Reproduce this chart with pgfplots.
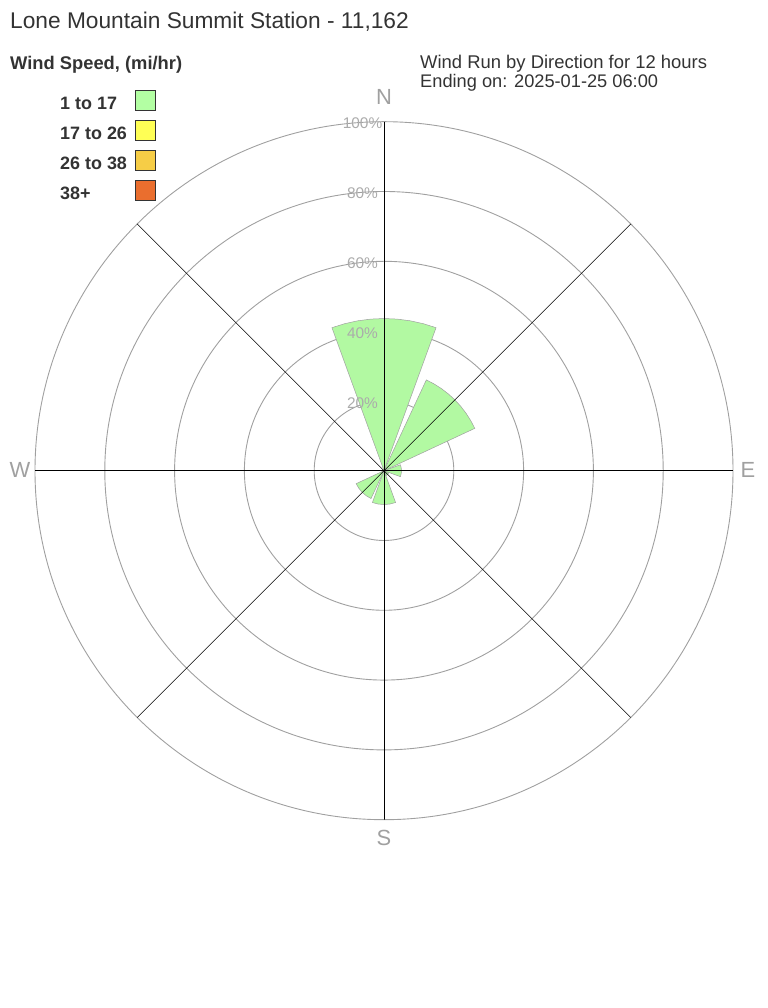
\documentclass[border=0pt]{standalone}
\usepackage{pgfplots}
\pgfplotsset{compat=1.18}
\usepgfplotslibrary{polar}
\usepackage{fontspec}
\setmainfont{Liberation Sans}

\definecolor{txt}{HTML}{333333}
\definecolor{ring}{HTML}{A0A0A0}
\definecolor{lbl}{HTML}{ABABAB}
\definecolor{wedge}{HTML}{B2F9A2}
\definecolor{spd1}{HTML}{B3FFA3}
\definecolor{spd2}{HTML}{FFFF55}
\definecolor{spd3}{HTML}{F6CD46}
\definecolor{spd4}{HTML}{EA6E2E}

\begin{document}
\begin{tikzpicture}[x=1bp,y=1bp]
  % page frame, same size as the reference
  \path (0,0) rectangle (768,1008);

  \begin{polaraxis}[
      at={(384bp,537.3bp)}, anchor=center,
      width=698bp, height=698bp, scale only axis,
      ymin=0, ymax=100,
      xtick=\empty,
      ytick={20,40,60,80},
      yticklabels={},
      major tick length=0,
      ymajorgrids=true,
      y grid style={ring, line width=0.9bp},
      axis line style={ring, line width=0.9bp},
    ]
    % wind run by direction, % (angle = math angle, 90 = N)
    % N
    \addplot[fill=wedge, draw=ring, line width=0.5bp] coordinates {
      (0,0) (70,43.6) (75,43.6) (80,43.6) (85,43.6) (90,43.6)
      (95,43.6) (100,43.6) (105,43.6) (110,43.6) (0,0)};
    % NE
    \addplot[fill=wedge, draw=ring, line width=0.5bp] coordinates {
      (0,0) (25,28.7) (30,28.7) (35,28.7) (40,28.7) (45,28.7)
      (50,28.7) (55,28.7) (60,28.7) (65,28.7) (0,0)};
    % E
    \addplot[fill=wedge, draw=ring, line width=0.5bp] coordinates {
      (0,0) (-20,5.0) (-10,5.0) (0,5.0) (10,5.0) (20,5.0) (0,0)};
    % SE
    \addplot[fill=wedge, draw=ring, line width=0.5bp] coordinates {
      (0,0) (-65,1.5) (-45,1.5) (-25,1.5) (0,0)};
    % S
    \addplot[fill=wedge, draw=ring, line width=0.5bp] coordinates {
      (0,0) (250,9.7) (260,9.7) (270,9.7) (280,9.7) (290,9.7) (0,0)};
    % SW
    \addplot[fill=wedge, draw=ring, line width=0.5bp] coordinates {
      (0,0) (205,8.8) (215,8.8) (225,8.8) (235,8.8) (245,8.8) (0,0)};

    % spokes
    \addplot[black, line width=1bp] coordinates {(90,100) (270,100)};
    \addplot[black, line width=1bp] coordinates {(0,100) (180,100)};
    \addplot[black, line width=0.6bp] coordinates {(45,100) (225,100)};
    \addplot[black, line width=0.6bp] coordinates {(135,100) (315,100)};
  \end{polaraxis}

  % ring labels
  \foreach \p/\y in {20/403, 40/333, 60/263, 80/193, 100/123}
    \node[text=lbl, font=\fontsize{15.5}{15.5}\selectfont, inner sep=0]
      at (362.5,1008-\y) {\p\%};

  % compass points
  \begin{scope}[every node/.style={text=ring, inner sep=0,
      font=\fontsize{22}{22}\selectfont}]
    \node at (384,911) {N};
    \node at (384,170) {S};
    \node at (748,538) {E};
    \node at (20,538) {W};
  \end{scope}

  % titles
  \node[anchor=base west, inner sep=0, text=txt,
    font=\fontsize{22.8}{24}\selectfont] at (10,979)
    {Lone Mountain Summit Station - 11,162};
  \node[anchor=base west, inner sep=0, text=txt,
    font=\fontsize{18.4}{20}\selectfont\bfseries] at (10,938)
    {Wind Speed, (mi/hr)};
  \node[anchor=base west, inner sep=0, text=txt,
    font=\fontsize{18.5}{20}\selectfont] at (420,939)
    {Wind Run by Direction for 12 hours};
  \node[anchor=base west, inner sep=0, text=txt,
    font=\fontsize{18.3}{20}\selectfont] at (420,920)
    {Ending on: 2025-01-25 06:00};

  % legend
  \foreach \t/\c [count=\i from 0] in {1 to 17/spd1, 17 to 26/spd2,
      26 to 38/spd3, 38+/spd4} {
    \node[anchor=base west, inner sep=0, text=txt,
      font=\fontsize{18}{20}\selectfont\bfseries] at (60,898-30*\i) {\t};
    \filldraw[fill=\c, draw=txt, line width=0.8bp]
      (135.5,897.5-30*\i) rectangle (155.5,917.5-30*\i);
  }
\end{tikzpicture}
\end{document}
